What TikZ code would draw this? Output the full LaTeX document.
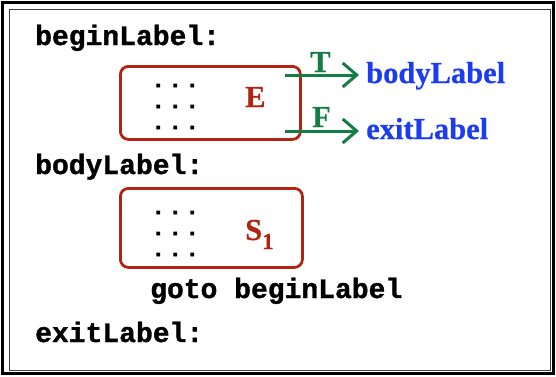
\documentclass[tikz,border=0pt]{standalone}
\usepackage{fontspec}
\setmainfont{Liberation Serif}[BoldFeatures={FakeBold=0.5}]
\setmonofont{Liberation Mono}[BoldFeatures={FakeBold=1.2}]
\newfontfamily\dotfont{Liberation Mono}[BoldFeatures={FakeBold=4}]
\usetikzlibrary{arrows.meta}
\definecolor{boxred}{RGB}{178,36,18}
\definecolor{arrgreen}{RGB}{20,125,70}
\definecolor{lblblue}{RGB}{28,60,240}
\newcommand{\dotrow}{\hbox{.\kern5pt.\kern5pt.}}
\newcommand{\dotrows}{\vbox{\baselineskip=21pt\lineskiplimit=-30pt\dotrow\dotrow\dotrow}}
\tikzset{
  code/.style={anchor=base west, inner sep=0pt, font=\fontsize{28}{28}\selectfont\ttfamily\bfseries},
  dots/.style={anchor=base west, inner sep=0pt, font=\fontsize{20}{21}\selectfont\dotfont\bfseries},
  blockbox/.style={draw=boxred, line width=2.8pt, rounded corners=8pt},
  redlbl/.style={anchor=base west, inner sep=0pt, text=boxred, font=\fontsize{30.5}{30.5}\selectfont\bfseries},
  greenlbl/.style={anchor=base west, inner sep=0pt, text=arrgreen, font=\fontsize{30.5}{30.5}\selectfont\bfseries},
  bluelbl/.style={anchor=base west, inner sep=0pt, text=lblblue, font=\fontsize{30.5}{30.5}\selectfont\bfseries},
  branch/.style={draw=arrgreen, line width=3pt, -{Straight Barb[length=14pt,width=24pt,line width=3pt]}},
}
\begin{document}
\begin{tikzpicture}[x=1pt,y=-1pt]
\useasboundingbox (0,0) rectangle (556,376);
% frame
\draw[line width=3pt] (2.5,2.5) rectangle (553.5,373.5);
\draw[line width=1.3pt, black!75] (9.5,9.5) rectangle (550.5,370.5);
% code text
\node[code] (bl) at (35,45) {beginLabel:};
\node[code] (bdl) at (35,174) {bodyLabel:};
\node[code] (gt) at (150,298) {goto beginLabel};
\node[code] (el) at (35,342) {exitLabel:};
% E box
\node[blockbox, minimum width=180pt, minimum height=73pt, anchor=north west, inner sep=0pt] (ebox) at (119,65) {};
\node[dots] (ed) at (152,129) {\dotrows};
\node[redlbl] (E) at (245,107) {E};
% S1 box
\node[blockbox, minimum width=182pt, minimum height=79pt, anchor=north west, inner sep=0pt] (sbox) at (119,187) {};
\node[dots] (sd) at (152,256) {\dotrows};
\node[redlbl] (S) at (245,240) {S\raisebox{-9pt}{\fontsize{23}{23}\selectfont 1}};
% branches
\coordinate (tstart) at (285,75);
\coordinate (fstart) at (285,131);
\node[bluelbl] (body) at (366,83) {bodyLabel};
\node[bluelbl] (exit) at (366,139) {exitLabel};
\draw[branch] (tstart) -- ([xshift=-7pt]tstart -| body.west);
\draw[branch] (fstart) -- ([xshift=-7pt]fstart -| exit.west);
\node[greenlbl] (T) at (310,72) {T};
\node[greenlbl] (F) at (312,127) {F};
\end{tikzpicture}
\end{document}
